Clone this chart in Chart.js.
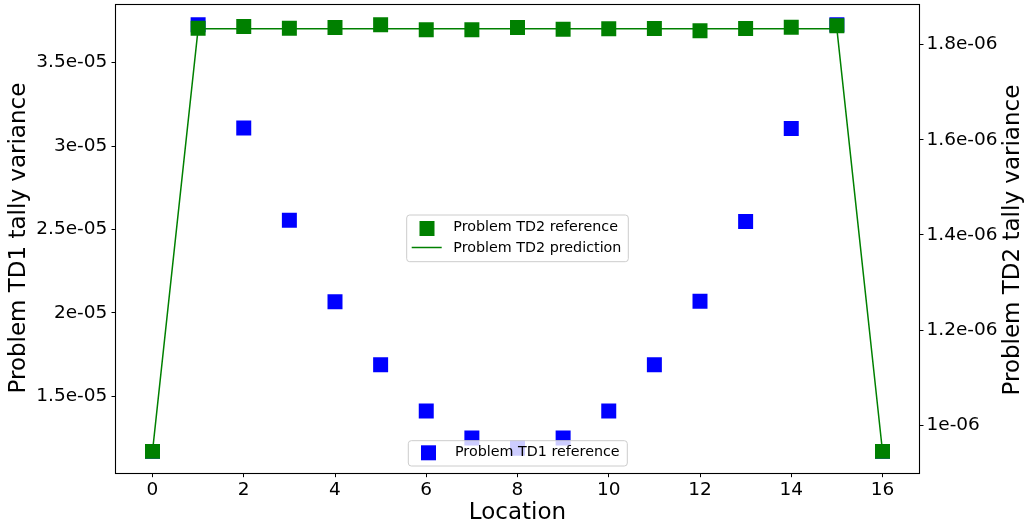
<!DOCTYPE html>
<html><head><meta charset="utf-8">
<script src="https://cdn.jsdelivr.net/npm/chart.js@4/dist/chart.umd.min.js"></script>
<style>html,body{margin:0;padding:0;background:#fff;}canvas{display:block;}</style>
</head><body>
<canvas id="c" width="1027" height="529"></canvas>
<script>
const locations = [0,1,2,3,4,5,6,7,8,9,10,11,12,13,14,15,16];
const td1Reference = [1.168e-5,3.727e-5,3.108e-5,2.555e-5,2.065e-5,1.688e-5,1.410e-5,1.248e-5,1.187e-5,1.248e-5,1.410e-5,1.688e-5,2.069e-5,2.547e-5,3.105e-5,3.727e-5,1.168e-5];
const td2Reference = [0.945e-6,1.8344e-6,1.8378e-6,1.8344e-6,1.8357e-6,1.8414e-6,1.8309e-6,1.8309e-6,1.8357e-6,1.8323e-6,1.8330e-6,1.8336e-6,1.8288e-6,1.8336e-6,1.8365e-6,1.8393e-6,0.945e-6];
const td2Prediction = [0.945e-6,1.833e-6,1.833e-6,1.833e-6,1.833e-6,1.833e-6,1.833e-6,1.833e-6,1.833e-6,1.833e-6,1.833e-6,1.833e-6,1.833e-6,1.833e-6,1.833e-6,1.833e-6,0.945e-6];
const xTicks = [0,2,4,6,8,10,12,14,16];
const xTickLabels = ['0','2','4','6','8','10','12','14','16'];
const leftTicks = [1.5e-5,2e-5,2.5e-5,3e-5,3.5e-5];
const leftTickLabels = ['1.5e-05','2e-05','2.5e-05','3e-05','3.5e-05'];
const rightTicks = [1e-6,1.2e-6,1.4e-6,1.6e-6,1.8e-6];
const rightTickLabels = ['1e-06','1.2e-06','1.4e-06','1.6e-06','1.8e-06'];
const xTitle = 'Location';
const leftTitle = 'Problem TD1 tally variance';
const rightTitle = 'Problem TD2 tally variance';
const labelTD1Ref = 'Problem TD1 reference';
const labelTD2Ref = 'Problem TD2 reference';
const labelTD2Pred = 'Problem TD2 prediction';

function range(arrs){
  const all = [].concat(...arrs);
  const mn = Math.min(...all), mx = Math.max(...all);
  const m = 0.05*(mx-mn);
  return [mn-m, mx+m];
}
const xr = range([locations]);
const lr = range([td1Reference]);
const rr = range([td2Reference, td2Prediction]);

const FONT = 'DejaVu Sans';
const GREEN = '#008000', BLUE = '#0000ff';

const pts = ys => locations.map((x,i)=>({x:x, y:ys[i]}));

function noPad(s){ s.paddingTop = 0; s.paddingBottom = 0; s.paddingLeft = 0; s.paddingRight = 0; }

const framePlugin = {
  id:'frame',
  afterDatasetsDraw(chart){
    const {ctx, chartArea:a} = chart;
    ctx.save();
    ctx.strokeStyle = '#000'; ctx.lineWidth = 1.1;
    ctx.strokeRect(Math.round(a.left)-0.5, Math.round(a.top)+0.5, Math.round(a.right)-Math.round(a.left)+1, Math.round(a.bottom)-Math.round(a.top));
    ctx.restore();
  }
};

const rightTitlePlugin = {
  id:'rightTitle',
  afterDraw(chart){
    const {ctx, chartArea:a} = chart;
    ctx.save();
    ctx.translate(1013.5, (a.top+a.bottom)/2 + 2);
    ctx.rotate(-Math.PI/2);
    ctx.font = '23px "' + FONT + '"';
    ctx.fillStyle = '#000';
    ctx.textAlign = 'center'; ctx.textBaseline = 'middle';
    ctx.fillText(rightTitle, 0, 0);
    ctx.restore();
  }
};

function roundRect(ctx,x,y,w,h,r){
  ctx.beginPath();
  ctx.moveTo(x+r,y); ctx.lineTo(x+w-r,y); ctx.arcTo(x+w,y,x+w,y+r,r);
  ctx.lineTo(x+w,y+h-r); ctx.arcTo(x+w,y+h,x+w-r,y+h,r);
  ctx.lineTo(x+r,y+h); ctx.arcTo(x,y+h,x,y+h-r,r);
  ctx.lineTo(x,y+r); ctx.arcTo(x,y,x+r,y,r); ctx.closePath();
}

const legendPlugin = {
  id:'twoLegends',
  afterDraw(chart, args, opts){
    const ctx = chart.ctx;
    const ds = chart.data.datasets;
    opts.boxes.forEach(b=>{
      ctx.save();
      roundRect(ctx, b.x, b.y, b.w, b.h, 3);
      ctx.fillStyle = 'rgba(255,255,255,0.8)'; ctx.fill();
      ctx.strokeStyle = '#cccccc'; ctx.lineWidth = 1; ctx.stroke();
      b.rows.forEach(r=>{
        const d = ds[r.ds];
        ctx.fillStyle = d.borderColor; ctx.strokeStyle = d.borderColor;
        if (r.kind === 'marker'){
          ctx.fillRect(r.mx-7.5, r.my-7.5, 15, 15);
        } else {
          ctx.lineWidth = 1.5;
          ctx.beginPath(); ctx.moveTo(r.lx0, r.my); ctx.lineTo(r.lx1, r.my); ctx.stroke();
        }
        ctx.fillStyle = '#000';
        ctx.font = '14.3px "' + FONT + '"';
        ctx.textAlign = 'left'; ctx.textBaseline = 'middle';
        ctx.fillText(d.label, r.tx, r.ty);
      });
      ctx.restore();
    });
  }
};

new Chart(document.getElementById('c'), {
  type:'line',
  data:{
    datasets:[
      {label:labelTD2Pred, data:pts(td2Prediction), yAxisID:'y2', borderColor:GREEN, backgroundColor:GREEN, borderWidth:1.5, pointRadius:0, tension:0, fill:false},
      {label:labelTD2Ref, data:pts(td2Reference), yAxisID:'y2', showLine:false, borderColor:GREEN, backgroundColor:GREEN, pointStyle:'rect', pointRadius:10.6, pointBorderWidth:0, pointHoverRadius:10.6},
      {label:labelTD1Ref, data:pts(td1Reference), yAxisID:'y', showLine:false, borderColor:BLUE, backgroundColor:BLUE, pointStyle:'rect', pointRadius:10.6, pointBorderWidth:0, pointHoverRadius:10.6}
    ]
  },
  options:{
    responsive:false, animation:false, devicePixelRatio:1,
    layout:{padding:{top:3.5,left:0,right:0,bottom:0}, autoPadding:false},
    plugins:{
      legend:{display:false}, tooltip:{enabled:false},
      twoLegends:{boxes:[
        {x:406.7,y:215,w:221.6,h:46.7,rows:[
          {ds:1,kind:'marker',mx:427,my:228.5,tx:453.3,ty:227.7},
          {ds:0,kind:'line',lx0:411.7,lx1:441.7,my:247.5,tx:453.3,ty:248.2}
        ]},
        {x:408.3,y:440.7,w:219,h:25.3,rows:[
          {ds:2,kind:'marker',mx:428.5,my:452.8,tx:455,ty:452.6}
        ]}
      ]}
    },
    scales:{
      x:{type:'linear', position:'bottom', min:xr[0], max:xr[1],
        afterFit(s){ s.height = 56.3; noPad(s); },
        afterBuildTicks(s){ s.ticks = xTicks.map(v=>({value:v})); },
        border:{display:false},
        grid:{drawOnChartArea:false, drawTicks:true, tickLength:4.5, tickColor:'#000', tickWidth:1},
        ticks:{color:'#000', font:{family:FONT, size:18.5}, padding:2, maxRotation:0, autoSkip:false,
          callback:(v,i)=>xTickLabels[i]},
        title:{display:true, text:xTitle, color:'#000', font:{family:FONT, size:23}, padding:{top:0,bottom:2.2}}
      },
      y:{type:'linear', position:'left', min:lr[0], max:lr[1],
        afterFit(s){ s.width = 116; noPad(s); },
        afterBuildTicks(s){ s.ticks = leftTicks.map(v=>({value:v})); },
        border:{display:false},
        grid:{drawOnChartArea:false, drawTicks:true, tickLength:4.5, tickColor:'#000', tickWidth:1},
        ticks:{color:'#000', font:{family:FONT, size:18.5}, padding:4.2, autoSkip:false,
          callback:(v,i)=>leftTickLabels[i]},
        title:{display:true, text:leftTitle, color:'#000', font:{family:FONT, size:23}, padding:{top:5.5,bottom:0}}
      },
      y2:{type:'linear', position:'right', min:rr[0], max:rr[1],
        afterFit(s){ s.width = 108; noPad(s); },
        afterBuildTicks(s){ s.ticks = rightTicks.map(v=>({value:v})); },
        border:{display:false},
        grid:{drawOnChartArea:false, drawTicks:true, tickLength:4.5, tickColor:'#000', tickWidth:1},
        ticks:{color:'#000', font:{family:FONT, size:18.5}, padding:3, autoSkip:false,
          callback:(v,i)=>rightTickLabels[i]},
        title:{display:false, text:rightTitle}
      }
    }
  },
  plugins:[framePlugin, rightTitlePlugin, legendPlugin]
});
</script>
</body></html>
